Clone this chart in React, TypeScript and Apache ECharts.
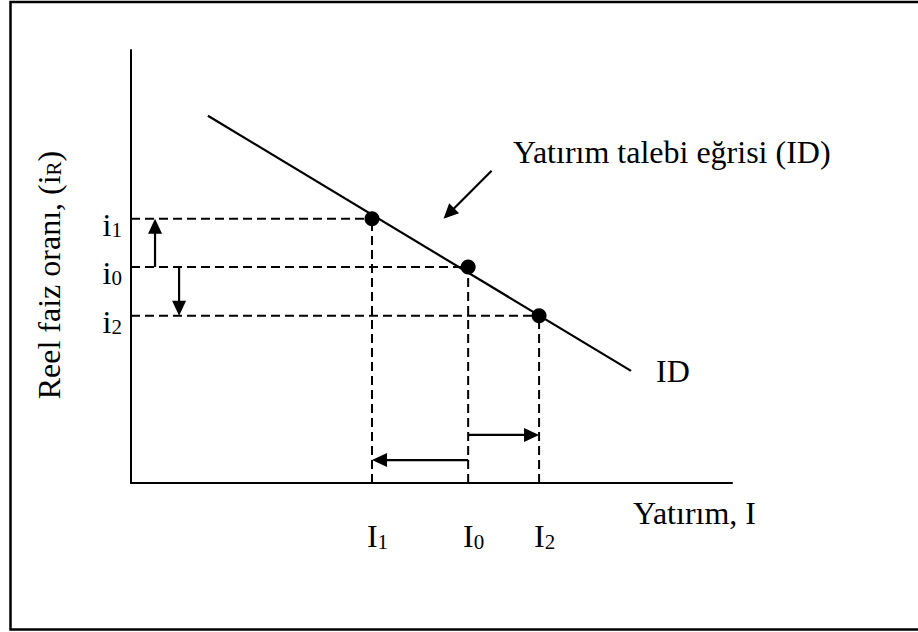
import React, { useEffect, useRef } from "react";
import * as echarts from "echarts";

// Investment levels (x) and their labels
const INVEST_VALUES = [40.1, 56.1, 67.9];
const INVEST_LABELS = ["I{s|1}", "I{s|0}", "I{s|2}"];
// Real interest rate levels (y) and their labels
const RATE_VALUES = [61.0, 49.9, 38.6];
const RATE_LABELS = ["i{s|1}", "i{s|0}", "i{s|2}"];
// Investment demand curve end points
const ID_CURVE = [
  [12.8, 84.8],
  [83.2, 25.9],
];
// Shift arrows: [x from, y from, x to, y to]
const SHIFT_ARROWS = [
  [4.0, 49.9, 4.0, 61.0],
  [8.0, 49.9, 8.0, 38.6],
  [56.1, 5.3, 40.1, 5.3],
  [56.1, 11.1, 67.9, 11.1],
  [60.0, 72.1, 52.0, 61.0],
];

const SERIF = "Liberation Serif, Times New Roman, serif";
const FS = 32;

function nearestIndex(arr: number[], v: number) {
  let best = 0;
  for (let k = 1; k < arr.length; k++) {
    if (Math.abs(arr[k] - v) < Math.abs(arr[best] - v)) best = k;
  }
  return best;
}

export default function App() {
  const ref = useRef<HTMLDivElement>(null);

  useEffect(() => {
    if (!ref.current) return;
    const chart = echarts.init(ref.current, null, { renderer: "svg" });

    const subRich = {
      s: {
        fontSize: 21,
        fontFamily: SERIF,
        color: "#000",
        lineHeight: 16,
        verticalAlign: "bottom",
      },
    };

    const dashStyle = { color: "#000", width: 2, type: [9, 5] as any };

    const dashedSeries: any[] = [];
    INVEST_VALUES.forEach((xv, k) => {
      const yv = RATE_VALUES[k];
      dashedSeries.push({
        type: "line",
        data: [
          [0, yv],
          [xv, yv],
        ],
        showSymbol: false,
        symbol: "none",
        lineStyle: dashStyle,
        silent: true,
        z: 1,
      });
      dashedSeries.push({
        type: "line",
        data: [
          [xv, 0],
          [xv, yv],
        ],
        showSymbol: false,
        symbol: "none",
        lineStyle: dashStyle,
        silent: true,
        z: 1,
      });
    });

    const option: any = {
      animation: false,
      backgroundColor: "#fff",
      textStyle: { fontFamily: SERIF },
      grid: { left: 131, right: 186, top: 50, bottom: 149 },
      xAxis: {
        type: "value",
        min: 0,
        max: 100,
        axisLine: { show: true, lineStyle: { color: "#000", width: 2 } },
        axisTick: { show: false },
        splitLine: { show: false },
        axisLabel: {
          show: true,
          customValues: INVEST_VALUES,
          formatter: (v: number) => INVEST_LABELS[nearestIndex(INVEST_VALUES, v)],
          margin: 37,
          fontSize: FS,
          fontFamily: SERIF,
          color: "#000",
          padding: [0, 0, 0, 11],
          rich: subRich,
        },
      },
      yAxis: {
        type: "value",
        min: 0,
        max: 100,
        axisLine: { show: true, lineStyle: { color: "#000", width: 2 } },
        axisTick: { show: false },
        splitLine: { show: false },
        axisLabel: {
          show: true,
          customValues: RATE_VALUES,
          formatter: (v: number) => RATE_LABELS[nearestIndex(RATE_VALUES, v)],
          margin: 9,
          fontSize: FS,
          fontFamily: SERIF,
          color: "#000",
          padding: [12, 0, 0, 0],
          rich: subRich,
        },
      },
      series: [
        ...dashedSeries,
        {
          type: "line",
          data: ID_CURVE,
          showSymbol: false,
          symbol: "none",
          lineStyle: { color: "#000", width: 2.2 },
          z: 3,
          endLabel: {
            show: true,
            formatter: "ID",
            distance: 25,
            fontSize: FS,
            fontFamily: SERIF,
            color: "#000",
          },
        },
        {
          type: "scatter",
          data: INVEST_VALUES.map((x, k) => [x, RATE_VALUES[k]]),
          symbol: "circle",
          symbolSize: 15,
          itemStyle: { color: "#000", opacity: 1 },
          z: 4,
        },
        {
          type: "custom",
          data: SHIFT_ARROWS,
          dimensions: ["x1", "y1", "x2", "y2"],
          encode: { x: [0, 2], y: [1, 3] },
          z: 5,
          renderItem: (params: any, api: any) => {
            const p1 = api.coord([api.value(0), api.value(1)]);
            const p2 = api.coord([api.value(2), api.value(3)]);
            const dx = p2[0] - p1[0];
            const dy = p2[1] - p1[1];
            const len = Math.hypot(dx, dy) || 1;
            const ux = dx / len;
            const uy = dy / len;
            const hl = 15;
            const hw = 7;
            const bx = p2[0] - ux * hl;
            const by = p2[1] - uy * hl;
            return {
              type: "group",
              children: [
                {
                  type: "line",
                  shape: { x1: p1[0], y1: p1[1], x2: bx + ux * 1, y2: by + uy * 1 },
                  style: { stroke: "#000", lineWidth: 2.2 },
                },
                {
                  type: "polygon",
                  shape: {
                    points: [
                      [p2[0], p2[1]],
                      [bx - uy * hw, by + ux * hw],
                      [bx + uy * hw, by - ux * hw],
                    ],
                  },
                  style: { fill: "#000" },
                },
              ],
            };
          },
        },
      ],
      graphic: [
        {
          type: "rect",
          shape: { x: 10.5, y: 2, width: 920, height: 627.5 },
          style: { fill: "none", stroke: "#000", lineWidth: 2.5 },
          silent: true,
          z: -1,
        },
        {
          type: "text",
          x: 513,
          y: 152.2,
          style: {
            text: "Yatırım talebi eğrisi (ID)",
            fontSize: FS,
            fontFamily: SERIF,
            fill: "#000",
            align: "left",
            verticalAlign: "middle",
          },
        },
        {
          type: "text",
          x: 633,
          y: 513.2,
          style: {
            text: "Yatırım, I",
            fontSize: FS,
            fontFamily: SERIF,
            fill: "#000",
            align: "left",
            verticalAlign: "middle",
          },
        },
        {
          type: "text",
          x: 48.7,
          y: 275,
          rotation: Math.PI / 2,
          style: {
            text: "Reel faiz oranı, (i{s|R})",
            fontSize: FS,
            fontFamily: SERIF,
            fill: "#000",
            align: "center",
            verticalAlign: "middle",
            rich: {
              s: {
                fontSize: 21,
                fontFamily: SERIF,
                fill: "#000",
                lineHeight: 16,
                verticalAlign: "bottom",
              },
            },
          },
        },
      ],
    };

    chart.setOption(option);
    return () => chart.dispose();
  }, []);

  return (
    <div
      ref={ref}
      style={{ position: "absolute", left: 0, top: 0, width: 918, height: 632, background: "#fff" }}
    />
  );
}
